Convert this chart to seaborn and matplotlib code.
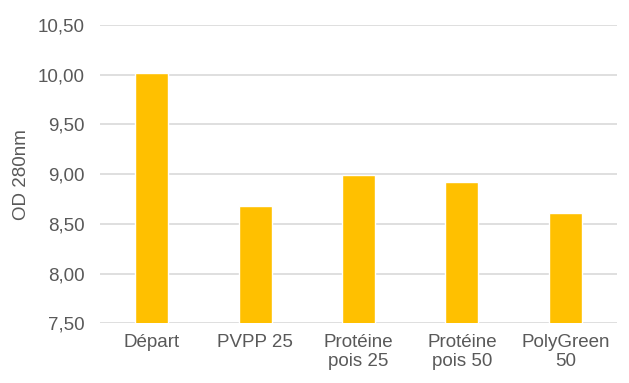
import matplotlib
matplotlib.use("Agg")
import matplotlib.pyplot as plt
import seaborn as sns
import pandas as pd
from matplotlib.ticker import FuncFormatter, MultipleLocator

categories = ["Départ", "PVPP 25", "Protéine\npois 25", "Protéine\npois 50", "PolyGreen\n50"]
values = [10.02, 8.68, 8.99, 8.92, 8.61]
y_label = "OD 280nm"

df = pd.DataFrame({"cat": categories, "val": values})

sns.set_theme(style="white")
plt.rcParams['font.family'] = ['Liberation Sans', 'DejaVu Sans']

fig = plt.figure(figsize=(6.29, 3.83), dpi=100)
ax = fig.add_axes([100/629, 1 - 323.3/383, 517/629, (323.3-25)/383])

sns.barplot(data=df, x="cat", y="val", color="#FFC000", saturation=1, width=0.32, ax=ax, zorder=3)

ax.set_ylim(7.5, 10.5)
ax.yaxis.set_major_locator(MultipleLocator(0.5))
ax.yaxis.set_major_formatter(FuncFormatter(lambda v, p: f"{v:.2f}".replace(".", ",")))
ax.grid(axis="y", color="#D9D9D9", linewidth=1.2, zorder=0)
ax.set_axisbelow(True)
for s in ax.spines.values():
    s.set_visible(False)
ax.tick_params(axis="both", length=0, colors="#595959", labelsize=13.5)
ax.tick_params(axis="y", pad=11)
ax.tick_params(axis="x", pad=8)
ax.set_xlabel("")
ax.set_ylabel(y_label, color="#595959", fontsize=13.5)
ax.yaxis.set_label_coords(-0.136, 0.5)
for t in ax.get_xticklabels():
    t.set_linespacing(1.15)

fig.savefig("out.png", dpi=100)
